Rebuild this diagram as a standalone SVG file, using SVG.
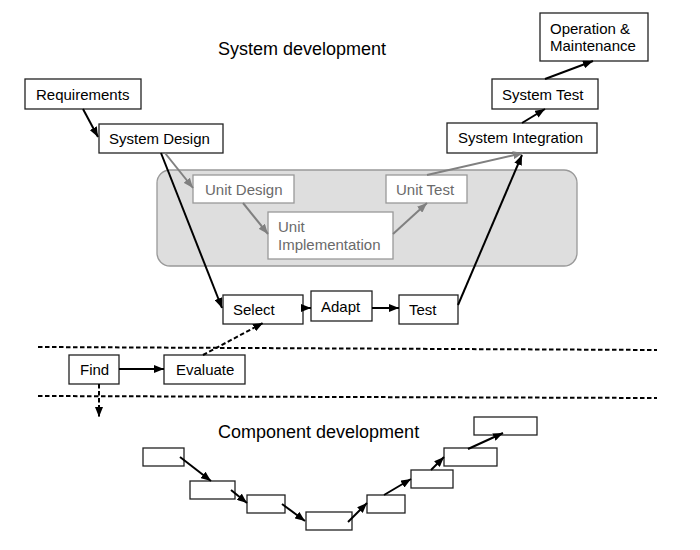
<svg xmlns="http://www.w3.org/2000/svg" width="700" height="550" viewBox="0 0 700 550">
<defs>
<style>
text{font-family:"Liberation Sans",Arial,sans-serif;font-size:15px;fill:#000}
.t{font-size:18px}
.g text{fill:#6a6a6a}
.box{fill:#fff;stroke:#222;stroke-width:1.3}
.gbox{fill:#fff;stroke:#999;stroke-width:1.3}
.a{stroke:#000;stroke-width:2;fill:none}
.ga{stroke:#808080;stroke-width:2;fill:none}
.d{stroke:#000;stroke-width:2;fill:none;stroke-dasharray:4.5 2.5}
</style>
<marker id="ah" markerUnits="userSpaceOnUse" markerWidth="10" markerHeight="8" refX="10" refY="4" orient="auto"><path d="M0,0 L10,4 L0,8 z" fill="#000"/></marker>
<marker id="gh" markerUnits="userSpaceOnUse" markerWidth="10" markerHeight="8" refX="10" refY="4" orient="auto"><path d="M0,0 L10,4 L0,8 z" fill="#808080"/></marker>
</defs>
<rect width="700" height="550" fill="#fff"/>
<text class="t" x="218" y="55">System development</text>
<text class="t" x="218" y="438">Component development</text>
<g id="unit-area"><rect x="157" y="170" width="420" height="96" rx="13" fill="#dedede" stroke="#999" stroke-width="1.3"/></g>
<g id="requirements"><rect class="box" x="25" y="79" width="116" height="30"/><text x="36" y="100">Requirements</text></g>
<g id="system-design"><rect class="box" x="99" y="124" width="124" height="29"/><text x="109" y="144">System Design</text></g>
<g id="operation"><rect class="box" x="540" y="13" width="108" height="48"/><text x="550" y="34">Operation &amp;</text><text x="550" y="51">Maintenance</text></g>
<g id="system-test"><rect class="box" x="492" y="79" width="106" height="30"/><text x="502" y="100">System Test</text></g>
<g id="system-integration"><rect class="box" x="447" y="123" width="150" height="30"/><text x="458" y="143">System Integration</text></g>
<g id="unit-design" class="g"><rect class="gbox" x="193" y="175" width="101" height="28"/><text x="205" y="195">Unit Design</text></g>
<g id="unit-test" class="g"><rect class="gbox" x="386" y="175" width="81" height="28"/><text x="396" y="195">Unit Test</text></g>
<g id="unit-implementation" class="g"><rect class="gbox" x="268" y="212" width="125" height="47"/><text x="278" y="232">Unit</text><text x="278" y="250">Implementation</text></g>
<g id="select"><rect class="box" x="223" y="295" width="80" height="29"/><text x="233" y="315">Select</text></g>
<g id="adapt"><rect class="box" x="311" y="291" width="61" height="30"/><text x="321" y="312">Adapt</text></g>
<g id="test"><rect class="box" x="399" y="295" width="59" height="29"/><text x="409" y="315">Test</text></g>
<g id="find"><rect class="box" x="69" y="355" width="50" height="29"/><text x="80" y="375">Find</text></g>
<g id="evaluate"><rect class="box" x="164" y="355" width="81" height="29"/><text x="176" y="375">Evaluate</text></g>
<g id="components">
<rect class="box" x="143" y="448" width="41" height="18"/>
<rect class="box" x="190" y="481" width="45" height="18"/>
<rect class="box" x="247" y="495" width="38" height="18"/>
<rect class="box" x="306" y="512" width="46" height="18"/>
<rect class="box" x="367" y="495" width="38" height="18"/>
<rect class="box" x="411" y="470" width="42" height="18"/>
<rect class="box" x="444" y="448" width="53" height="18"/>
<rect class="box" x="474" y="417" width="63" height="18"/>
</g>
<g id="separators">
<line class="d" x1="38" y1="347" x2="657" y2="350"/>
<line class="d" x1="38" y1="396" x2="657" y2="398"/>
</g>
<g id="connectors">
<line class="a" x1="83" y1="109" x2="98" y2="137" marker-end="url(#ah)"/>
<line class="a" x1="522" y1="123" x2="545" y2="109" marker-end="url(#ah)"/>
<line class="a" x1="545" y1="79" x2="593" y2="61" marker-end="url(#ah)"/>
<line class="ga" x1="165" y1="153" x2="193" y2="188" marker-end="url(#gh)"/>
<line class="ga" x1="243" y1="203" x2="268" y2="234" marker-end="url(#gh)"/>
<line class="ga" x1="393" y1="234" x2="427" y2="203" marker-end="url(#gh)"/>
<line class="ga" x1="427" y1="175" x2="523" y2="153" marker-end="url(#gh)"/>
<line class="a" x1="161" y1="153" x2="222" y2="308" marker-end="url(#ah)"/>
<line class="a" x1="458" y1="305" x2="522" y2="155" marker-end="url(#ah)"/>
<line class="a" x1="303" y1="308" x2="311" y2="308" marker-end="url(#ah)"/>
<line class="a" x1="372" y1="308" x2="399" y2="308" marker-end="url(#ah)"/>
<line class="a" x1="119" y1="369" x2="164" y2="369" marker-end="url(#ah)"/>
<line class="d" x1="203" y1="355" x2="263" y2="323" marker-end="url(#ah)"/>
<line class="d" x1="99" y1="384" x2="99" y2="417" marker-end="url(#ah)"/>
<line class="a" x1="180" y1="457" x2="211" y2="481" marker-end="url(#ah)"/>
<line class="a" x1="231" y1="490" x2="247" y2="503" marker-end="url(#ah)"/>
<line class="a" x1="282" y1="504" x2="305" y2="521" marker-end="url(#ah)"/>
<line class="a" x1="348" y1="522" x2="367" y2="503" marker-end="url(#ah)"/>
<line class="a" x1="384" y1="495" x2="411" y2="479" marker-end="url(#ah)"/>
<line class="a" x1="431" y1="470" x2="444" y2="457" marker-end="url(#ah)"/>
<line class="a" x1="468" y1="449" x2="503" y2="433" marker-end="url(#ah)"/>
</g>
</svg>
